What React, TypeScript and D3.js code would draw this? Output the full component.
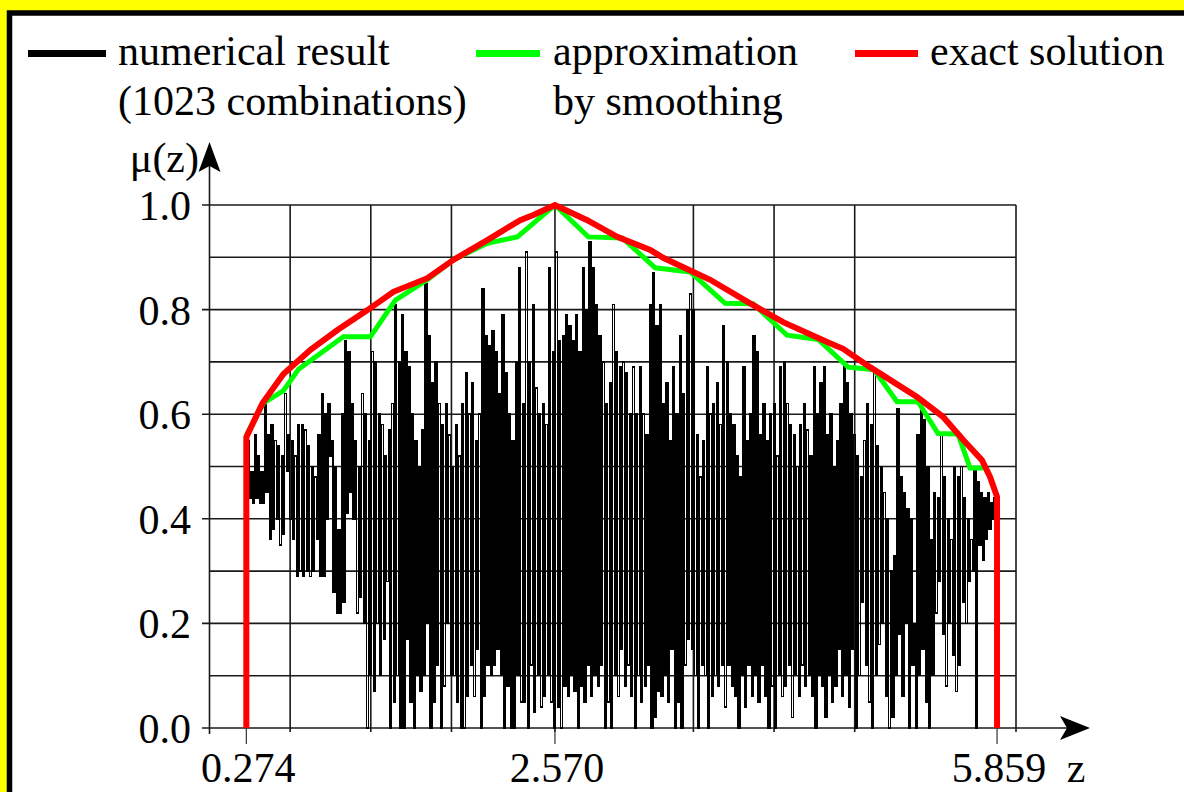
import React from "react";
import * as d3 from "d3";

// numerical result, 1023 combinations, sampled left to right (z from numStart to numEnd)
const numStart = 0.285;
const numEnd = 5.85;
const numValues = [
  0.55, 0.44, 0.49, 0.43, 0.56, 0.44, 0.52, 0.43,
  0.49, 0.43, 0.62, 0.45, 0.56, 0.36,
  0.58, 0.38, 0.55, 0.40, 0.54, 0.35,
  0.52, 0.37, 0.64, 0.49, 0.56, 0.40,
  0.55, 0.36, 0.52, 0.29, 0.58, 0.30,
  0.58, 0.29, 0.57, 0.30, 0.54, 0.29,
  0.50, 0.30, 0.48, 0.36, 0.56, 0.29,
  0.64, 0.29, 0.60, 0.40, 0.62, 0.52,
  0.55, 0.26, 0.50, 0.22, 0.38, 0.22,
  0.60, 0.24, 0.74, 0.41, 0.72, 0.45,
  0.62, 0.40, 0.55, 0.22, 0.50, 0.25,
  0.64, 0.20, 0.60, 0.00, 0.55, 0.10,
  0.72, 0.07, 0.70, 0.20, 0.60, 0.10,
  0.58, 0.17, 0.52, 0.28, 0.57, 0.00,
  0.62, 0.05, 0.81, 0.10, 0.70, 0.00,
  0.79, 0.00, 0.72, 0.17, 0.69, 0.05,
  0.60, 0.00, 0.55, 0.10, 0.50, 0.07,
  0.57, 0.10, 0.85, 0.20, 0.75, 0.00,
  0.66, 0.05, 0.70, 0.12, 0.62, 0.00,
  0.58, 0.08, 0.62, 0.20, 0.56, 0.10,
  0.50, 0.10, 0.58, 0.05, 0.52, 0.00,
  0.62, 0.00, 0.68, 0.06, 0.60, 0.12,
  0.66, 0.06, 0.55, 0.15, 0.60, 0.00,
  0.84, 0.06, 0.75, 0.12, 0.73, 0.10,
  0.76, 0.12, 0.72, 0.15, 0.64, 0.10,
  0.79, 0.00, 0.68, 0.08, 0.60, 0.00,
  0.55, 0.00, 0.70, 0.10, 0.88, 0.05,
  0.62, 0.05, 0.91, 0.00, 0.70, 0.12,
  0.81, 0.03, 0.65, 0.10, 0.60, 0.04,
  0.62, 0.06, 0.58, 0.10, 0.88, 0.05,
  0.72, 0.00, 0.91, 0.04, 0.74, 0.00,
  0.75, 0.08, 0.79, 0.06, 0.77, 0.10,
  0.74, 0.07, 0.79, 0.00, 0.72, 0.08,
  0.88, 0.05, 0.80, 0.12, 0.93, 0.06,
  0.88, 0.10, 0.81, 0.08, 0.75, 0.12,
  0.70, 0.00, 0.62, 0.05, 0.66, 0.00,
  0.81, 0.10, 0.72, 0.06, 0.69, 0.15,
  0.70, 0.08, 0.68, 0.12, 0.60, 0.06,
  0.69, 0.00, 0.60, 0.10, 0.69, 0.05,
  0.60, 0.08, 0.56, 0.12, 0.81, 0.00,
  0.87, 0.02, 0.77, 0.07, 0.81, 0.06,
  0.62, 0.10, 0.66, 0.05, 0.55, 0.15,
  0.69, 0.00, 0.60, 0.05, 0.75, 0.00,
  0.64, 0.12, 0.80, 0.17, 0.83, 0.15,
  0.80, 0.10, 0.56, 0.00, 0.48, 0.12,
  0.55, 0.10, 0.69, 0.00, 0.60, 0.06,
  0.62, 0.10, 0.66, 0.08, 0.58, 0.12,
  0.77, 0.04, 0.70, 0.12, 0.60, 0.08,
  0.58, 0.06, 0.52, 0.00, 0.48, 0.10,
  0.69, 0.04, 0.55, 0.12, 0.60, 0.06,
  0.75, 0.10, 0.72, 0.05, 0.56, 0.12,
  0.62, 0.06, 0.55, 0.00, 0.60, 0.08,
  0.62, 0.00, 0.52, 0.10, 0.69, 0.06,
  0.70, 0.08, 0.62, 0.12, 0.58, 0.02,
  0.56, 0.10, 0.50, 0.06, 0.58, 0.12,
  0.62, 0.08, 0.57, 0.10, 0.52, 0.06,
  0.69, 0.00, 0.60, 0.10, 0.66, 0.08,
  0.69, 0.02, 0.56, 0.10, 0.60, 0.05,
  0.50, 0.08, 0.55, 0.15, 0.62, 0.06,
  0.69, 0.10, 0.66, 0.04, 0.60, 0.15,
  0.56, 0.00, 0.52, 0.10, 0.48, 0.24,
  0.55, 0.12, 0.62, 0.05, 0.58, 0.00,
  0.68, 0.10, 0.54, 0.16, 0.50, 0.20,
  0.45, 0.06, 0.40, 0.00, 0.30, 0.02,
  0.33, 0.10, 0.61, 0.18, 0.48, 0.06,
  0.45, 0.20, 0.42, 0.00, 0.40, 0.12,
  0.20, 0.00, 0.56, 0.10, 0.63, 0.15,
  0.59, 0.05, 0.50, 0.00, 0.36, 0.10,
  0.45, 0.22, 0.44, 0.28, 0.56, 0.18,
  0.48, 0.08, 0.40, 0.20, 0.36, 0.14,
  0.50, 0.07, 0.48, 0.12, 0.50, 0.24,
  0.44, 0.20, 0.40, 0.28, 0.36, 0.30,
  0.50, 0.00, 0.47, 0.35, 0.45, 0.32,
  0.44, 0.36, 0.45, 0.38, 0.43, 0.40,
  0.44, 0.38,
];

// approximation by smoothing
const smoothZ = [0.274, 0.401, 0.55, 0.662, 0.996, 1.197, 1.383, 1.621, 1.814, 2.067, 2.29, 2.57,
  2.818, 3.071, 3.316, 3.576, 3.836, 4.045, 4.297, 4.528, 4.751, 4.944, 5.115, 5.271, 5.42, 5.569, 5.658, 5.755];
const smoothMu = [0.56, 0.621, 0.645, 0.686, 0.748, 0.748, 0.818, 0.857, 0.895, 0.927, 0.939, 1.0,
  0.939, 0.937, 0.88, 0.872, 0.812, 0.811, 0.751, 0.743, 0.69, 0.685, 0.624, 0.624, 0.563, 0.562, 0.497, 0.497];

// exact solution
const exactZ = [0.274, 0.274, 0.394, 0.55, 0.751, 0.952, 1.175, 1.368, 1.621, 1.814, 2.067, 2.312, 2.409, 2.57,
  2.81, 3.033, 3.279, 3.375, 3.725, 4.022, 4.268, 4.595, 4.714, 4.914, 5.264, 5.457, 5.606, 5.747, 5.807, 5.859, 5.859];
const exactMu = [0, 0.556, 0.621, 0.677, 0.723, 0.761, 0.799, 0.834, 0.86, 0.895, 0.933, 0.971, 0.981, 1.0,
  0.971, 0.939, 0.914, 0.899, 0.857, 0.812, 0.776, 0.738, 0.725, 0.69, 0.633, 0.595, 0.551, 0.512, 0.48, 0.442, 0];

const yGrid = [0.1, 0.2, 0.3, 0.4, 0.5, 0.6, 0.7, 0.8, 0.9, 1.0];
const yTicks = [0, 0.2, 0.4, 0.6, 0.8, 1.0];
const xGrid = [0.6, 1.2, 1.8, 2.57, 3.6, 4.2, 4.8, 6.0];
const xTicks = [0.274, 2.57, 5.859];
const xTickLabels = ["0.274", "2.570", "5.859"];

const legendNames = [["numerical result", "(1023 combinations)"], ["approximation", "by smoothing"], ["exact solution"]];
const legendColors = ["#000000", "#00ff00", "#ff0000"];

const FONT = "Liberation Serif, Tinos, Times New Roman, DejaVu Serif, serif";

export default function App() {
  const x = d3.scaleLinear().domain([0, 6]).range([209.5, 1016]);
  const y = d3.scaleLinear().domain([0, 1]).range([728, 205]);

  const step = (numEnd - numStart) / (numValues.length - 1);
  const numPts: [number, number][] = numValues.map((v, i) => [numStart + i * step, v]);
  const line = d3.line<[number, number]>().x(d => x(d[0])).y(d => y(d[1]));
  const stepLine = d3.line<[number, number]>().x(d => x(d[0])).y(d => y(d[1])).curve(d3.curveStepAfter);
  const smoothPts: [number, number][] = smoothZ.map((z, i) => [z, smoothMu[i]]);
  const exactPts: [number, number][] = exactZ.map((z, i) => [z, exactMu[i]]);

  const legendSwatch = [[28, 106], [476, 540], [855, 918]];
  const legendTextX = [118, 553, 930];

  return (
    <svg width={1184} height={792} style={{ position: "absolute", left: 0, top: 0, display: "block", fontFamily: FONT }}>
      <rect x={0} y={0} width={1184} height={792} fill="#ffff00" />
      <rect x={9.5} y={13} width={1300} height={900} fill="#ffffff" stroke="#000" strokeWidth={5.5} />

      {/* legend */}
      {legendNames.map((lines, i) => (
        <g key={i}>
          <line x1={legendSwatch[i][0]} x2={legendSwatch[i][1]} y1={53.5} y2={53.5} stroke={legendColors[i]} strokeWidth={7} />
          {lines.map((t, j) => (
            <text key={j} x={legendTextX[i]} y={65 + j * 50} fontSize={42} fill="#000">{t}</text>
          ))}
        </g>
      ))}

      {/* grid */}
      {yGrid.map((v, i) => (
        <line key={"h" + i} x1={Math.round(v * 10) % 2 === 0 ? 202 : 209.5} x2={1016} y1={y(v)} y2={y(v)} stroke="#1a1a1a" strokeWidth={1.6} />
      ))}
      {xGrid.map((v, i) => (
        <line key={"v" + i} x1={x(v)} x2={x(v)} y1={y(1)} y2={y(0) + 4} stroke="#1a1a1a" strokeWidth={1.6} />
      ))}

      {/* axes */}
      <line x1={x(0)} x2={x(0)} y1={y(0) + 6} y2={166} stroke="#1a1a1a" strokeWidth={1.6} />
      <path d={`M${x(0)},142 L${x(0) - 11},172 L${x(0)},166 L${x(0) + 11},172 Z`} fill="#000" />
      <line x1={202} x2={1068} y1={y(0)} y2={y(0)} stroke="#1a1a1a" strokeWidth={1.6} />
      <path d={`M1090,${y(0)} L1060,${y(0) - 12} L1067,${y(0)} L1060,${y(0) + 12} Z`} fill="#000" />
      {xTicks.map((v, i) => (
        <line key={"t" + i} x1={x(v)} x2={x(v)} y1={y(0)} y2={y(0) + 16} stroke="#333" strokeWidth={1.2} />
      ))}

      {/* series */}
      <path d={stepLine(numPts) || ""} fill="none" stroke="#000" strokeWidth={1.5} shapeRendering="crispEdges" />
      <path d={line(smoothPts) || ""} fill="none" stroke="#00ff00" strokeWidth={5} />
      <path d={line(exactPts) || ""} fill="none" stroke="#ff0000" strokeWidth={6} />

      {/* tick labels */}
      {yTicks.map((v, i) => (
        <text key={"yl" + i} x={191} y={y(v) + 15} fontSize={42} textAnchor="end">{v.toFixed(1)}</text>
      ))}
      {xTicks.map((v, i) => (
        <text key={"xl" + i} x={x(v) + 2} y={782} fontSize={42} textAnchor="middle">{xTickLabels[i]}</text>
      ))}
      <text x={1076} y={782} fontSize={42} textAnchor="middle">z</text>
      <text x={199} y={172} fontSize={42} textAnchor="end">μ(z)</text>
    </svg>
  );
}
